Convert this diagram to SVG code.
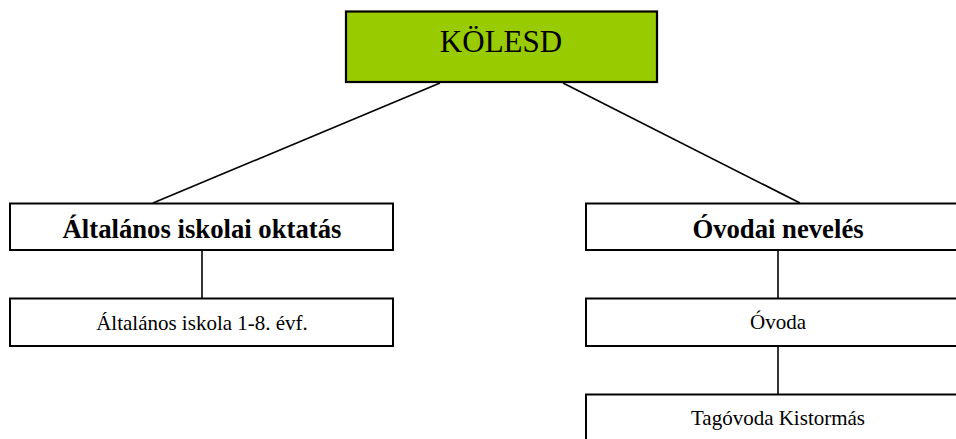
<svg xmlns="http://www.w3.org/2000/svg" width="956" height="439" viewBox="0 0 956 439">
<style>
.box{fill:#ffffff;stroke:#000000;stroke-width:2}
.root{fill:#99cc00;stroke:#000000;stroke-width:2.2}
.edge{stroke:#000000;stroke-width:1.6;fill:none}
text{font-family:"Liberation Serif","Times New Roman",serif;fill:#000000;text-anchor:middle}
.h{font-weight:bold;font-size:26.7px}
.s{font-size:21px}
.t{font-size:31px}
</style>
<rect width="956" height="439" fill="#ffffff"/>
<g id="connectors">
<line class="edge" x1="440" y1="83" x2="153" y2="203"/>
<line class="edge" x1="563" y1="83" x2="800" y2="203"/>
<line class="edge" x1="202" y1="250" x2="202" y2="298"/>
<line class="edge" x1="778" y1="250" x2="778" y2="298"/>
<line class="edge" x1="778" y1="346" x2="778" y2="394"/>
</g>
<g id="kolesd">
<rect class="root" x="346" y="11.5" width="311" height="70.5"/>
<text class="t" x="501" y="52">KÖLESD</text>
</g>
<g id="altalanos-oktatas">
<rect class="box" x="10" y="203.5" width="383" height="46.5"/>
<text class="h" x="202" y="238">Általános iskolai oktatás</text>
</g>
<g id="altalanos-iskola">
<rect class="box" x="10" y="298.5" width="383" height="47.5"/>
<text class="s" x="202" y="330">Általános iskola 1-8. évf.</text>
</g>
<g id="ovodai-neveles">
<rect class="box" x="586" y="203.5" width="390" height="46.5"/>
<text class="h" x="778" y="238">Óvodai nevelés</text>
</g>
<g id="ovoda">
<rect class="box" x="586" y="298.5" width="390" height="47.5"/>
<text class="s" x="778" y="329">Óvoda</text>
</g>
<g id="tagovoda">
<rect class="box" x="586" y="394.5" width="390" height="60"/>
<text class="s" x="778" y="425">Tagóvoda Kistormás</text>
</g>
</svg>
